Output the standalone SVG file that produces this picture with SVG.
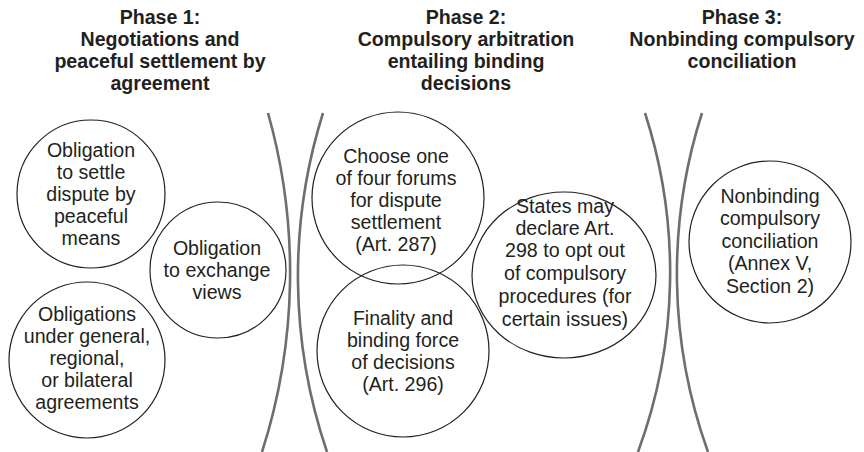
<svg xmlns="http://www.w3.org/2000/svg" width="864" height="452" viewBox="0 0 864 452">
  <style>
    .title { font-family: "Liberation Sans", Arial, sans-serif; font-weight: bold; font-size: 19.6px; fill: #231f20; text-anchor: middle; }
    .label { font-family: "Liberation Sans", Arial, sans-serif; font-size: 19.6px; fill: #231f20; text-anchor: middle; }
    .bubble { fill: none; stroke: #231f20; stroke-width: 1.2; }
    .divider { fill: none; stroke: #6d6e71; stroke-width: 2.6; }
  </style>
  <rect width="864" height="452" fill="#ffffff"/>

  <!-- phase headings -->
  <g id="phase1-title">
    <text class="title"><tspan x="160" y="24">Phase 1:</tspan><tspan x="160" y="46">Negotiations and</tspan><tspan x="160" y="68">peaceful settlement by</tspan><tspan x="160" y="90">agreement</tspan></text>
  </g>
  <g id="phase2-title">
    <text class="title"><tspan x="466" y="24">Phase 2:</tspan><tspan x="466" y="46">Compulsory arbitration</tspan><tspan x="466" y="68">entailing binding</tspan><tspan x="466" y="90">decisions</tspan></text>
  </g>
  <g id="phase3-title">
    <text class="title"><tspan x="742" y="24">Phase 3:</tspan><tspan x="742" y="46">Nonbinding compulsory</tspan><tspan x="742" y="68">conciliation</tspan></text>
  </g>

  <!-- curved separators between phases -->
  <g id="dividers">
    <path class="divider" d="M268,113 A587,587 0 0 1 262,452"/>
    <path class="divider" d="M323,113 A545,545 0 0 0 327,452"/>
    <path class="divider" d="M645,113 A518,518 0 0 1 638,452"/>
    <path class="divider" d="M702,113 A527,527 0 0 0 708,452"/>
  </g>

  <!-- phase 1 -->
  <g id="settle-peacefully">
    <circle class="bubble" cx="91" cy="194" r="74"/>
    <text class="label"><tspan x="91" y="157">Obligation</tspan><tspan x="91" y="179">to settle</tspan><tspan x="91" y="201">dispute by</tspan><tspan x="91" y="223">peaceful</tspan><tspan x="91" y="245">means</tspan></text>
  </g>
  <g id="exchange-views">
    <circle class="bubble" cx="218" cy="270" r="68"/>
    <text class="label"><tspan x="217" y="255">Obligation</tspan><tspan x="217" y="277">to exchange</tspan><tspan x="217" y="299">views</tspan></text>
  </g>
  <g id="agreements">
    <circle class="bubble" cx="87" cy="360" r="78"/>
    <text class="label"><tspan x="87" y="321">Obligations</tspan><tspan x="87" y="343">under general,</tspan><tspan x="87" y="365">regional,</tspan><tspan x="87" y="387">or bilateral</tspan><tspan x="87" y="409">agreements</tspan></text>
  </g>

  <!-- phase 2 -->
  <g id="choose-forum">
    <circle class="bubble" cx="398" cy="198" r="86"/>
    <text class="label"><tspan x="396" y="163">Choose one</tspan><tspan x="396" y="185">of four forums</tspan><tspan x="396" y="207">for dispute</tspan><tspan x="396" y="229">settlement</tspan><tspan x="396" y="251">(Art. 287)</tspan></text>
  </g>
  <g id="binding-force">
    <circle class="bubble" cx="403" cy="351" r="86"/>
    <text class="label"><tspan x="403" y="325">Finality and</tspan><tspan x="403" y="347">binding force</tspan><tspan x="403" y="369">of decisions</tspan><tspan x="403" y="391">(Art. 296)</tspan></text>
  </g>
  <g id="opt-out">
    <ellipse class="bubble" cx="564" cy="275" rx="92" ry="83"/>
    <text class="label"><tspan x="565" y="213">States may</tspan><tspan x="565" y="235">declare Art.</tspan><tspan x="565" y="257">298 to opt out</tspan><tspan x="565" y="280">of compulsory</tspan><tspan x="565" y="303">procedures (for</tspan><tspan x="565" y="326">certain issues)</tspan></text>
  </g>

  <!-- phase 3 -->
  <g id="conciliation">
    <circle class="bubble" cx="770" cy="242" r="81"/>
    <text class="label"><tspan x="770" y="203">Nonbinding</tspan><tspan x="770" y="225">compulsory</tspan><tspan x="770" y="248">conciliation</tspan><tspan x="770" y="270">(Annex V,</tspan><tspan x="770" y="293">Section 2)</tspan></text>
  </g>
</svg>
